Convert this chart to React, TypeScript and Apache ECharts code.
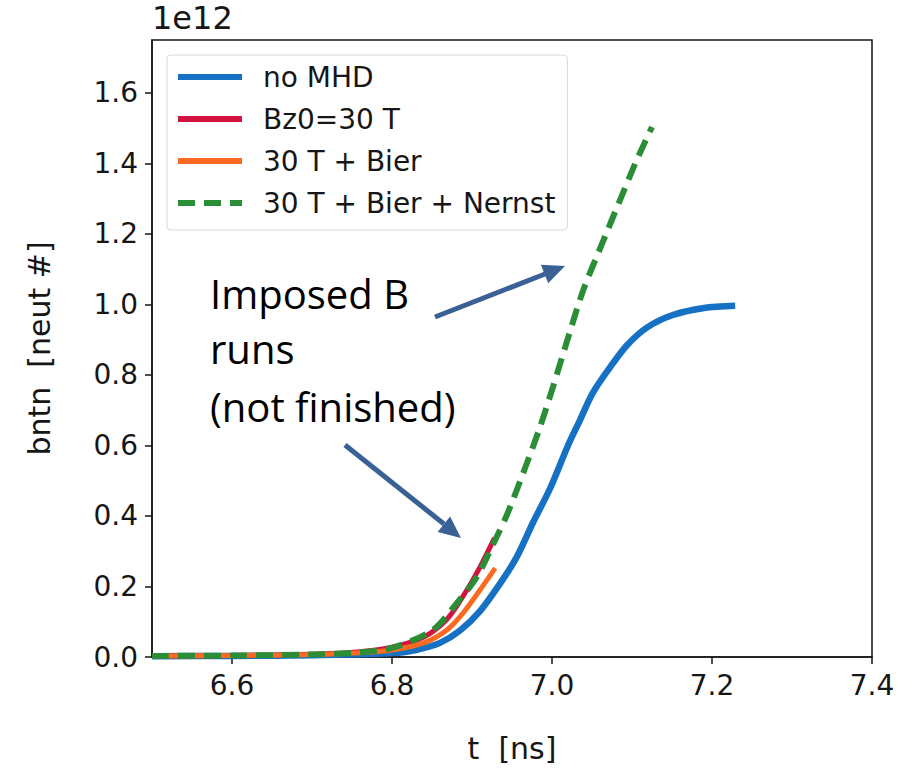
import React, { useEffect, useRef } from "react";
import * as echarts from "echarts";

const xTicks = [6.6, 6.8, 7.0, 7.2, 7.4];
const yTicks = [0, 0.2, 0.4, 0.6, 0.8, 1.0, 1.2, 1.4, 1.6];

const seriesNames = ["no MHD", "Bz0=30 T", "30 T + Bier", "30 T + Bier + Nernst"];

const tNoMHD = [6.5, 6.6, 6.7, 6.76, 6.8, 6.83, 6.86, 6.885, 6.91, 6.935, 6.956, 6.976, 6.998, 7.02, 7.035, 7.051, 7.073, 7.094, 7.119, 7.151, 7.19, 7.229];
const yNoMHD = [0.002, 0.003, 0.005, 0.008, 0.011, 0.02, 0.04, 0.075, 0.13, 0.208, 0.284, 0.38, 0.48, 0.6, 0.672, 0.749, 0.823, 0.885, 0.935, 0.97, 0.99, 0.996];

const tBz = [6.5, 6.6, 6.7, 6.76, 6.8, 6.84, 6.869, 6.889, 6.91, 6.928];
const yBz = [0.003, 0.004, 0.008, 0.015, 0.028, 0.057, 0.108, 0.173, 0.255, 0.337];

const tBier = [6.5, 6.6, 6.7, 6.76, 6.8, 6.84, 6.869, 6.889, 6.91, 6.929];
const yBier = [0.003, 0.004, 0.007, 0.012, 0.02, 0.04, 0.077, 0.125, 0.19, 0.252];

const tNernst = [6.5, 6.6, 6.7, 6.76, 6.8, 6.85, 6.88, 6.906, 6.929, 6.944, 6.964, 6.985, 7.002, 7.018, 7.039, 7.064, 7.085, 7.106, 7.125];
const yNernst = [0.003, 0.004, 0.007, 0.013, 0.026, 0.075, 0.15, 0.227, 0.332, 0.405, 0.522, 0.652, 0.772, 0.89, 1.04, 1.18, 1.296, 1.41, 1.503];

const colors = ["#1670c4", "#d2133f", "#fb6a21", "#2b8d35"];

const zip = (t: number[], y: number[]) => t.map((v, i) => [v, y[i]]);

const ARROW = "#3a6196";

export default function App() {
  const ref = useRef<HTMLDivElement>(null);
  useEffect(() => {
    if (!ref.current) return;
    const chart = echarts.init(ref.current, null, { renderer: "svg" });
    const dataSets = [zip(tNoMHD, yNoMHD), zip(tBz, yBz), zip(tBier, yBier), zip(tNernst, yNernst)];
    const widths = [6.5, 5, 5, 6];
    const font = "DejaVu Sans";
    const ink = "#161616";
    chart.setOption({
      animation: false,
      backgroundColor: "#fff",
      grid: { left: 152, top: 40, right: 27, bottom: 118, show: true, borderColor: ink, borderWidth: 1.5, backgroundColor: "transparent" },
      xAxis: {
        type: "value",
        min: 6.5,
        max: 7.4,
        name: "t  [ns]",
        nameLocation: "middle",
        nameGap: 76,
        nameTextStyle: { fontFamily: font, fontSize: 30, color: ink },
        axisLine: { show: true, onZero: false, lineStyle: { color: ink, width: 1.5 } },
        axisTick: { show: true, length: 7, lineStyle: { color: ink, width: 1.5 }, customValues: xTicks },
        axisLabel: { fontFamily: font, fontSize: 28, color: ink, margin: 14, customValues: xTicks, formatter: (v: number) => v.toFixed(1) },
        splitLine: { show: false },
      },
      yAxis: {
        type: "value",
        min: 0,
        max: 1.75,
        name: "bntn  [neut #]",
        nameLocation: "middle",
        nameGap: 98,
        nameRotate: 90,
        nameTextStyle: { fontFamily: font, fontSize: 30, color: ink },
        axisLine: { show: true, onZero: false, lineStyle: { color: ink, width: 1.5 } },
        axisTick: { show: true, length: 7, lineStyle: { color: ink, width: 1.5 }, customValues: yTicks },
        axisLabel: { fontFamily: font, fontSize: 28, color: ink, margin: 14, customValues: yTicks, formatter: (v: number) => v.toFixed(1) },
        splitLine: { show: false },
      },
      legend: {
        orient: "vertical",
        left: 167,
        top: 55,
        padding: [8, 12, 13, 8],
        itemWidth: 64,
        itemHeight: 14,
        itemGap: 14,
        backgroundColor: "rgba(255,255,255,0.85)",
        borderColor: "#d8d8d8",
        borderWidth: 1,
        borderRadius: 4,
        itemStyle: { opacity: 0, color: "transparent", borderWidth: 0 },
        lineStyle: { width: 6 },
        textStyle: { fontFamily: font, fontSize: 28, color: ink, lineHeight: 28, padding: [0, 0, 0, 16] },
        data: seriesNames,
      },
      series: seriesNames.map((name, i) => ({
        name,
        type: "line",
        data: dataSets[i],
        showSymbol: false,
        symbol: "none",
        smooth: 0.3,
        color: colors[i],
        lineStyle: { color: colors[i], width: widths[i], type: i === 3 ? [17, 9] : "solid" },
        z: 2 + i,
      })),
      graphic: [
        { type: "text", left: 152, top: 2, style: { text: "1e12", fontFamily: font, fontSize: 32, fill: ink } },
        { type: "text", x: 210, y: 293, style: { text: "Imposed B", fontFamily: "Open Sans", fontSize: 40, fill: "#000", verticalAlign: "middle" } },
        { type: "text", x: 210, y: 348, style: { text: "runs", fontFamily: "Open Sans", fontSize: 40, fill: "#000", verticalAlign: "middle" } },
        { type: "text", x: 210, y: 406, style: { text: "(not finished)", fontFamily: "Open Sans", fontSize: 40, fill: "#000", verticalAlign: "middle" } },
        { type: "line", shape: { x1: 435, y1: 317, x2: 545, y2: 274 }, style: { stroke: ARROW, lineWidth: 5 } },
        { type: "polygon", shape: { points: [[565, 266], [548.2, 283.3], [540.9, 264.7]] }, style: { fill: ARROW } },
        { type: "line", shape: { x1: 345, y1: 445, x2: 444, y2: 524 }, style: { stroke: ARROW, lineWidth: 5 } },
        { type: "polygon", shape: { points: [[461, 538], [437.6, 532.0], [450.1, 516.4]] }, style: { fill: ARROW } },
      ],
    });
    return () => chart.dispose();
  }, []);
  return <div ref={ref} style={{ position: "fixed", left: 0, top: 0, width: 899, height: 775 }} />;
}
